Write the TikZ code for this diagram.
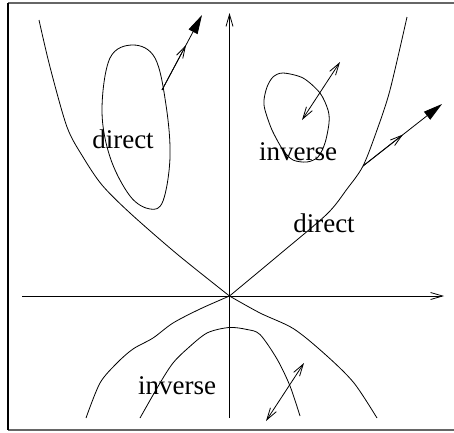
\documentclass[tikz,border=0pt]{standalone}
\usepackage{fontspec}
\setmainfont{Liberation Serif}
\usetikzlibrary{arrows.meta}
\begin{document}
\begin{tikzpicture}[x=1pt,y=-1pt,line width=0.8pt,
  openhead/.style={-{Straight Barb[length=12pt,width=7pt]}},
  bothopen/.style={{Straight Barb[length=12pt,width=7pt]}-{Straight Barb[length=12pt,width=7pt]}},
  filledhead/.style={-{Triangle[length=19pt,width=10pt]}},
  lbl/.style={font=\fontsize{27}{30}\selectfont,anchor=base,inner sep=0pt}]
\useasboundingbox (0,0) rectangle (454,432);
% frame
\draw[black!60,line width=1.2pt] (8,3) -- (460,3);
\draw[black!60,line width=1.2pt] (8,430) -- (460,430);
\draw[line width=1.1pt] (8,3) -- (8,430);
% coordinates
\coordinate (O) at (229.5,296);
\coordinate (xs) at (22,296);
\coordinate (xe) at (444,296);
\coordinate (ys) at (229.5,418);
\coordinate (ye) at (229.5,13);
\coordinate (a1s) at (162,90);
\coordinate (a1m) at (186,45);
\coordinate (a1e) at (202,15);
\coordinate (a2s) at (363,166);
\coordinate (a2m) at (403,134.5);
\coordinate (a2e) at (442,104);
\coordinate (a3s) at (302,120);
\coordinate (a3e) at (340,62);
\coordinate (a4s) at (266,421);
\coordinate (a4e) at (304,363);
% axes
\draw[openhead] (xs) -- (xe);
\draw[openhead] (ys) -- (ye);
% upper curve
\draw plot[smooth] coordinates {(39,20) (50,67) (67,127) (83,157) (102,185) (130,213) (177,254) (O)};
\draw plot[smooth] coordinates {(O) (280,254) (327,214) (347,189) (363,166) (377,130) (390,90) (407,17)};
% lower X curves
\draw plot[smooth] coordinates {(86,418) (100,383) (117,363) (133,349) (153,338) (173,323) (200,309) (O)};
\draw plot[smooth] coordinates {(O) (260,313) (294,329) (327,356) (354,383) (377,418)};
% inverted cap
\draw plot[smooth] coordinates {(140,418) (160,383) (173,363) (187,349) (207,333) (229,327.5) (247,329.5) (260,334.5) (277,359) (290,386) (300,416)};
% big loop
\draw plot[smooth cycle,tension=0.6] coordinates {(133,45) (155,58) (166,105) (170,157) (163,201) (150,209) (130,196) (110,157) (102,110) (110,58)};
% small loop
\draw plot[smooth cycle] coordinates {(283,73) (303,78) (320,93) (328,110) (329,123) (325,143) (318,157) (307,162) (293,160) (283,150) (272,130) (265,110) (264,100) (267,87) (273,77)};
% arrows
\draw[openhead] (a1s) -- (a1m);
\draw[filledhead] (a1s) -- (a1e);
\draw[openhead] (a2s) -- (a2m);
\draw[filledhead] (a2s) -- (a2e);
\draw[bothopen] (a3s) -- (a3e);
\draw[bothopen] (a4s) -- (a4e);
% labels
\node[lbl] (l1) at (123,148) {direct};
\node[lbl] (l2) at (298,160) {inverse};
\node[lbl] (l3) at (324,232) {direct};
\node[lbl] (l4) at (177,394) {inverse};
\end{tikzpicture}
\end{document}
